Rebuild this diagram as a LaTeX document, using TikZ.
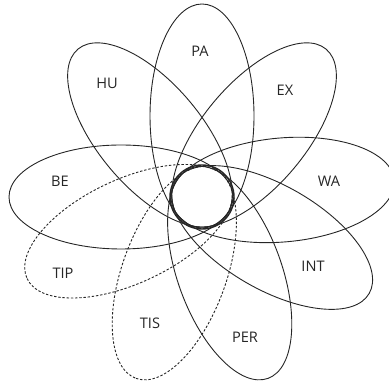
\documentclass[tikz,border=0pt]{standalone}
\usepackage{fontspec}
\setsansfont{Open Sans}

\begin{document}
\begin{tikzpicture}[
    x=0.5pt, y=0.5pt,
    petal/.style={draw=black!85, line width=0.45pt},
    hidden/.style={petal, dash pattern=on 1.2pt off 0.9pt},
    tag/.style={font=\sffamily\fontsize{7.3}{8}\selectfont, text=black!85, inner sep=0pt}
  ]
    \useasboundingbox (0,0) rectangle (389,384);
    \coordinate (hub) at (202,187);
    % the nine petals around the hub
    \foreach \ang/\sty in {90/petal,50/petal,5/petal,-30/petal,-70/petal,-110/hidden,-155/hidden,180/petal,130/petal}
      \draw[\sty, shift={(hub)}, rotate=\ang] (81,0) ellipse (112 and 52);
    \draw[petal, line width=0.7pt] (hub) circle (32);
    % labels
    \node[tag] (pa)  at (200,333) {PA};
    \node[tag] (hu)  at (107,301) {HU};
    \node[tag] (ex)  at (285,294) {EX};
    \node[tag] (wa)  at (329,203) {WA};
    \node[tag] (be)  at (60,203)  {BE};
    \node[tag] (tip) at (63,111)  {TIP};
    \node[tag] (int) at (313,118) {INT};
    \node[tag] (tis) at (150,61)  {TIS};
    \node[tag] (per) at (245,47)  {PER};
\end{tikzpicture}
\end{document}
